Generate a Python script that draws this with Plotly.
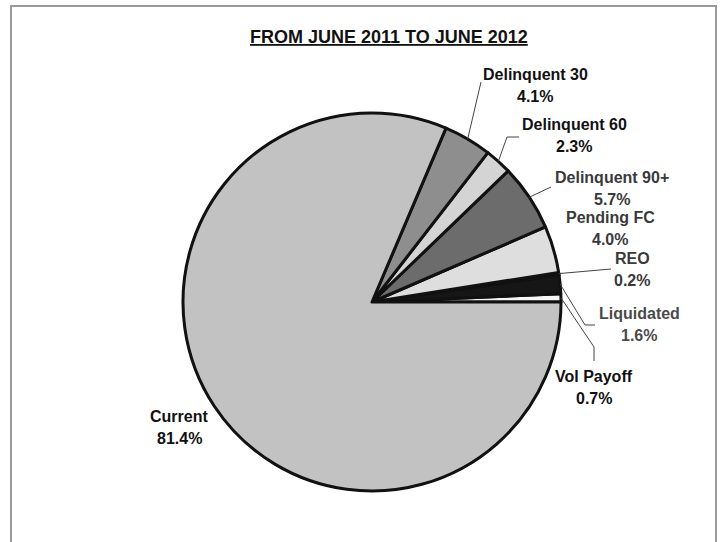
import math
import plotly.graph_objects as go

# Loan status distribution, June 2011 -> June 2012 (percent of pool)
labels = ["Vol Payoff", "Liquidated", "REO", "Pending FC",
          "Delinquent 90+", "Delinquent 60", "Delinquent 30", "Current"]
values = [0.7, 1.6, 0.2, 4.0, 5.7, 2.3, 4.1, 81.4]
title_text = "FROM JUNE 2011 TO JUNE 2012"

colors = ["#f6f6f6", "#161616", "#2e2e2e", "#dedede",
          "#6c6c6c", "#d4d4d4", "#8e8e8e", "#c2c2c2"]

W, H = 723, 542
CX, CY, R = 372, 302, 189  # pie centre / radius in pixels


def px(x):
    return x / W


def py(y):
    return 1 - y / H


total = sum(values)
# plotly ends the first counterclockwise slice at `rotation`; shift so the
# first slice starts exactly at 3 o'clock
start_rotation = 90 - values[0] / total * 360

fig = go.Figure()
fig.add_trace(go.Pie(
    labels=labels,
    values=values,
    sort=False,
    direction="counterclockwise",
    rotation=start_rotation,
    textinfo="none",
    hoverinfo="label+percent",
    marker=dict(colors=colors, line=dict(color="#111111", width=3)),
    domain=dict(x=[px(CX - R), px(CX + R)], y=[py(CY + R), py(CY - R)]),
    showlegend=False,
))

# label placement (pixel centres of name line), label colour, leader bends
label_style = {
    "Delinquent 30": dict(pos=(535, 74), col="#111111", bends=[(481, 82)]),
    "Delinquent 60": dict(pos=(574, 124), col="#111111", bends=[(507, 137), (519, 137)]),
    "Delinquent 90+": dict(pos=(612, 177), col="#3a3a3a", bends=[(551, 187)]),
    "Pending FC": dict(pos=(610, 217), col="#3a3a3a", bends=[]),
    "REO": dict(pos=(632, 258), col="#3a3a3a", bends=[(611, 269)]),
    "Liquidated": dict(pos=(639, 313), col="#4a4a4a", bends=[(585, 325), (595, 325)]),
    "Vol Payoff": dict(pos=(594, 376), col="#111111", bends=[(594, 347), (594, 361)]),
    "Current": dict(pos=(179, 416), col="#111111", bends=[]),
}
LINE_GAP = 22.5

annotations = []
shapes = []
cum = 0.0
for lab, val in zip(labels, values):
    mid = (cum + val / 2) / total * 2 * math.pi
    cum += val
    st = label_style[lab]
    x, y = st["pos"]
    for txt, yy in ((lab, y), (f"{val:.1f}%", y + LINE_GAP)):
        annotations.append(dict(
            x=px(x), y=py(yy), xref="paper", yref="paper",
            text=f"<b>{txt}</b>", showarrow=False,
            xanchor="center", yanchor="middle",
            font=dict(family="Liberation Sans, Arial, sans-serif", size=16, color=st["col"]),
        ))
    if st["bends"]:
        ex, ey = CX + R * math.cos(mid), CY - R * math.sin(mid)
        pts = [(ex, ey)] + st["bends"]
        path = "M " + " L ".join(f"{px(a):.5f},{py(b):.5f}" for a, b in pts)
        shapes.append(dict(type="path", path=path, xref="paper", yref="paper",
                           line=dict(color="#444444", width=1)))

# chart title
annotations.append(dict(
    x=px(389), y=py(37), xref="paper", yref="paper",
    text=f"<b><u>{title_text}</u></b>", showarrow=False,
    xanchor="center", yanchor="middle",
    font=dict(family="Liberation Sans, Arial, sans-serif", size=18, color="#111111"),
))

# outer chart frame
shapes.append(dict(type="rect", xref="paper", yref="paper",
                   x0=px(11), x1=px(716), y0=py(560), y1=py(6),
                   line=dict(color="#9a9a9a", width=2), fillcolor="rgba(0,0,0,0)"))

fig.update_layout(
    width=W, height=H,
    margin=dict(l=0, r=0, t=0, b=0),
    paper_bgcolor="white",
    plot_bgcolor="white",
    annotations=annotations,
    shapes=shapes,
)

fig.write_html("out.html")
